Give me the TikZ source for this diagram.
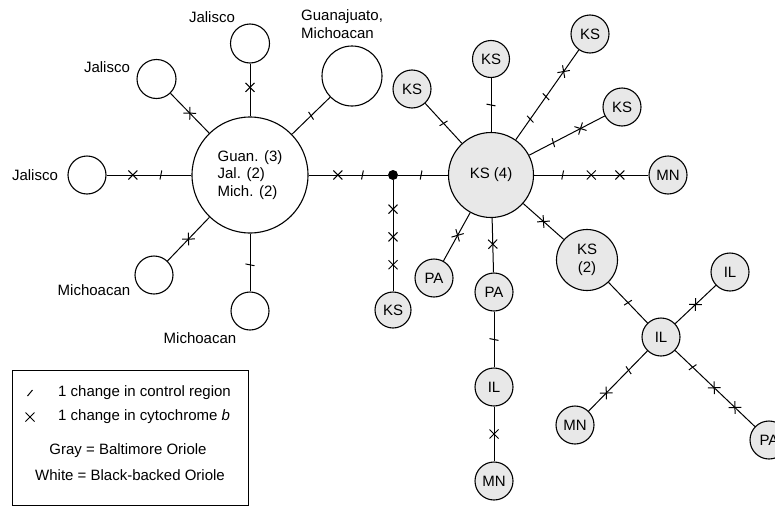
\documentclass[tikz,border=0pt]{standalone}
\usepackage{fontspec}
\setmainfont{Liberation Sans}
\usetikzlibrary{shapes.misc}
\begin{document}
\begin{tikzpicture}[x=1pt,y=-1pt,
 every node/.style={font=\fontsize{15}{17.5}\selectfont},
 wn/.style={circle, draw, line width=1.1pt, fill=white, inner sep=0pt, minimum size=38pt, align=center},
 gn/.style={wn, fill=gray!18},
 br/.style={line width=1pt},
 xm/.style={sloped, draw, cross out, line width=1pt, inner sep=0pt, minimum size=8pt},
 tk/.style={sloped, draw, strike out, line width=1pt, inner sep=0pt, minimum width=0.8pt, minimum height=8pt},
 lab/.style={inner sep=0pt}
]
\useasboundingbox (0,0) rectangle (775,506);
% left cluster (white)
\node[wn, minimum size=116pt, align=left] (G) at (250,175) {Guan. (3)\\Jal. (2)\\Mich. (2)};
\node[wn, minimum size=39pt] (JT) at (250,43.5) {};
\node[wn, minimum size=39pt] (JUL) at (156.5,79) {};
\node[wn, minimum size=60pt] (GM) at (352,76) {};
\node[wn] (JL) at (87,175) {};
\node[wn] (ML) at (154,275) {};
\node[wn] (MB) at (250,311) {};
\node[lab] (tJT) at (212,17) {Jalisco};
\node[lab] (tJUL) at (107,67) {Jalisco};
\node[lab, anchor=west, align=left] (tGM) at (301,24) {Guanajuato,\\Michoacan};
\node[lab] (tJL) at (35,175) {Jalisco};
\node[lab] (tML) at (94,290) {Michoacan};
\node[lab] (tMB) at (200,338) {Michoacan};
% junction
\node[circle, fill, inner sep=0pt, minimum size=10pt] (D) at (393,175) {};
% right cluster (gray)
\node[gn, minimum size=36pt] (KSd) at (393,310) {KS};
\node[gn, minimum size=85pt] (K4) at (491,175) {KS (4)};
\node[gn, minimum size=37pt] (KT) at (491,59) {KS};
\node[gn] (KUL) at (412,89) {KS};
\node[gn] (KTR) at (590,34) {KS};
\node[gn] (KR) at (622,107) {KS};
\node[gn] (MNR) at (668,175) {MN};
\node[gn, minimum size=61pt] (K2) at (587,260) {KS\\(2)};
\node[gn] (PAL) at (434,278) {PA};
\node[gn] (PAC) at (494,292) {PA};
\node[gn] (ILv) at (494,387) {IL};
\node[gn] (MNb) at (494,481) {MN};
\node[gn] (ILc) at (661,337) {IL};
\node[gn] (ILtr) at (730,272) {IL};
\node[gn] (MNl) at (575,425) {MN};
\node[gn] (PAr) at (769,440) {PA};
% branches
\draw[br] (G) -- node[xm,pos=0.55]{} (JT);
\draw[br] (G) -- node[xm,pos=0.5]{} (JUL);
\draw[br] (G) -- node[tk,pos=0.5]{} (GM);
\draw[br] (G) -- node[tk,pos=0.36]{} node[xm,pos=0.69]{} (JL);
\draw[br] (G) -- node[xm,pos=0.5]{} (ML);
\draw[br] (G) -- node[tk,pos=0.54]{} (MB);
\draw[br] (G) -- node[xm,pos=0.37]{} node[tk,pos=0.68]{} (D);
\draw[br] (D) -- node[xm,pos=0.26]{} node[xm,pos=0.51]{} node[xm,pos=0.76]{} (KSd);
\draw[br] (D) -- node[tk,pos=0.46]{} (K4);
\draw[br] (K4) -- node[tk,pos=0.5]{} (KT);
\draw[br] (K4) -- node[tk,pos=0.5]{} (KUL);
\draw[br] (K4) -- node[tk,pos=0.23]{} node[tk,pos=0.48]{} node[xm,pos=0.76]{} (KTR);
\draw[br] (K4) -- node[tk,pos=0.32]{} node[xm,pos=0.68]{} (KR);
\draw[br] (K4) -- node[tk,pos=0.25]{} node[xm,pos=0.5]{} node[xm,pos=0.75]{} (MNR);
\draw[br] (K4) -- node[xm,pos=0.5]{} (K2);
\draw[br] (K4) -- node[xm,pos=0.48]{} (PAC);
\draw[br] (K4) -- node[xm,pos=0.47]{} (PAL);
\draw[br] (PAC) -- node[tk,pos=0.5]{} (ILv);
\draw[br] (ILv) -- node[xm,pos=0.5]{} (MNb);
\draw[br] (K2) -- node[tk,pos=0.5]{} (ILc);
\draw[br] (ILc) -- node[xm,pos=0.5]{} (ILtr);
\draw[br] (ILc) -- node[tk,pos=0.32]{} node[xm,pos=0.7]{} (MNl);
\draw[br] (ILc) -- node[tk,pos=0.22]{} node[xm,pos=0.49]{} node[xm,pos=0.75]{} (PAr);
% legend
\node[draw, line width=0.8pt, inner sep=0pt, minimum width=236pt, minimum height=135pt, anchor=north west] (leg) at (12,370) {};
\node[draw, strike out, line width=1pt, inner sep=0pt, minimum width=4pt, minimum height=5pt] (sym1) at (30,393) {};
\node[draw, cross out, line width=1pt, inner sep=0pt, minimum size=8pt] (sym2) at (30,417) {};
\node[lab, anchor=west] (l1) at (58,393) {1 change in control region};
\node[lab, anchor=west] (l2) at (58,417) {1 change in cytochrome \textit{b}};
\node[lab] (l3) at (128,451) {Gray = Baltimore Oriole};
\node[lab] (l4) at (130,475) {White = Black-backed Oriole};
\end{tikzpicture}
\end{document}
